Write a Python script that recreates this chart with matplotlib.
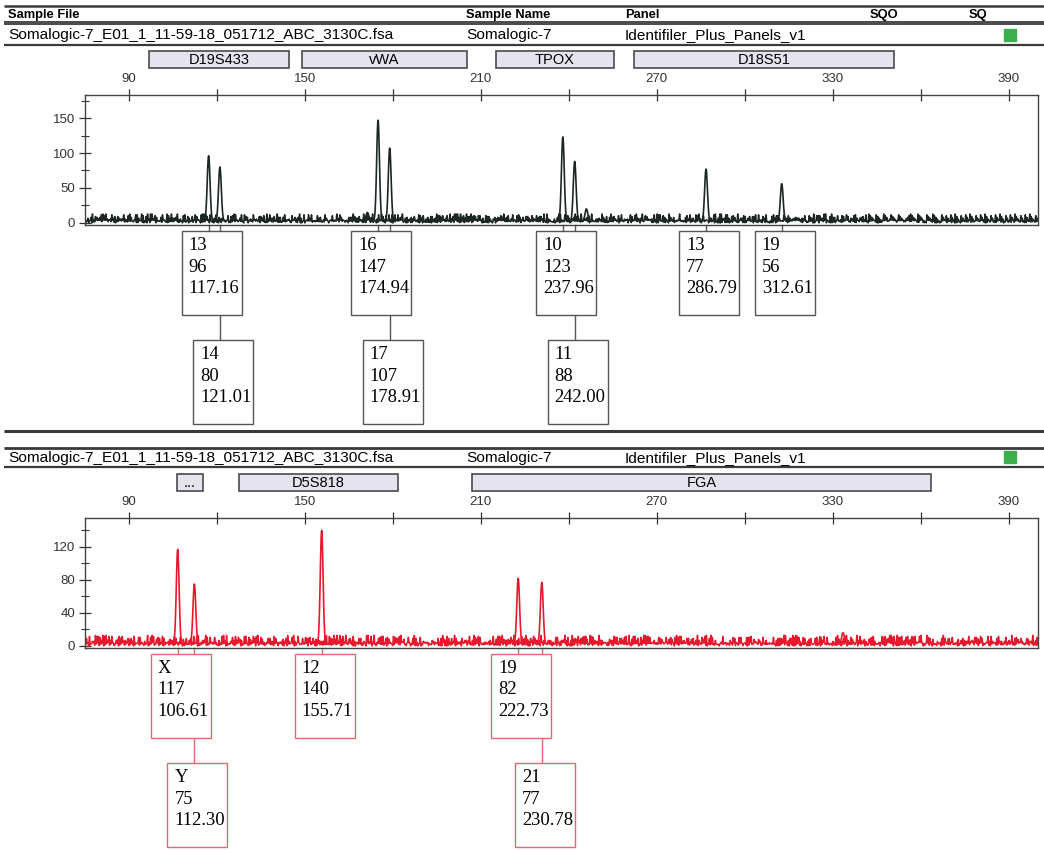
import numpy as np
import matplotlib.pyplot as plt
from matplotlib.patches import Rectangle

W, H = 1044, 850

#==============================================
# header info
sample_file = 'Somalogic-7_E01_1_11-59-18_051712_ABC_3130C.fsa'
sample_name = 'Somalogic-7'
panel_name = 'Identifiler_Plus_Panels_v1'
headers = ['Sample File', 'Sample Name', 'Panel', 'SQO', 'SQ']

x_ticks = [90, 150, 210, 270, 330, 390]
x_minor = [120, 180, 240, 300, 360]

# black dye
top_markers = ['D19S433', 'vWA', 'TPOX', 'D18S51']
top_marker_lo = [96.8, 149.1, 215.1, 262.3]
top_marker_hi = [144.7, 205.2, 255.5, 350.9]
top_alleles = ['13', '14', '16', '17', '10', '11', '13', '19']
top_heights = [96, 80, 147, 107, 123, 88, 77, 56]
top_sizes = [117.16, 121.01, 174.94, 178.91, 237.96, 242.00, 286.79, 312.61]
top_rows = [0, 1, 0, 1, 0, 1, 0, 0]
top_minor_sizes = [171.3, 246.0]
top_minor_heights = [15, 20]
top_yticks = [0, 50, 100, 150]
top_yminor = [25, 75, 125, 175]

# red dye
bot_markers = ['...', 'D5S818', 'FGA']
bot_marker_lo = [106.4, 127.6, 206.9]
bot_marker_hi = [115.3, 181.6, 363.5]
bot_alleles = ['X', 'Y', '12', '19', '21']
bot_heights = [117, 75, 140, 82, 77]
bot_sizes = [106.61, 112.30, 155.71, 222.73, 230.78]
bot_rows = [0, 1, 0, 0, 1]
bot_minor_sizes = [333.5]
bot_minor_heights = [16]
bot_yticks = [0, 40, 80, 120]
bot_yminor = [20, 60, 100, 140]

# baseline noise, typed levels (0-9)
noise_a = ('3141592653589793238462643383279502884197169399375105820974944592'
           '3078164062862089986280348253421170679821480865132823066470938446'
           '0955058223172535940812848111745028410270193852110555964462294895'
           '4930381962718281828459045235360287471352662497757247093699959574'
           '9669676277240766303535475945713821785251664274274663919320030599'
           '2181741359662904357290033429526059563073813232862794349076323382'
           '9880753195251019011573834187930702154089149934884167509244761460'
           '6680822648001684774118537423454424371075390777449920695517027618'
           '6143784145628097531864209751386420864213579753197531086429753108'
           '5274185296307418529630741852963074185296307418529630741852963074')
noise_b = ('1618033988749894848204586834365638117720309179805762862135448622'
           '7052604628189024497072072041893911374847540880753868917521266338'
           '6222353693179318006076672635443338908659593958290563832266131992'
           '8290267880675208766892501711696207032221043216269548626296313614'
           '4381497587012203408058879544547492461856953648644492410443207713'
           '4494704956584678850987433944221254487706647809158846074998871240'
           '0765217057517978834166256249407589069704000281210427621771117778'
           '0531531714101170466659914669798731761356006708748071013179523689'
           '4275219484353056783002287856997829778347845878228911097625003026'
           '9615617002504643382437764861028383126833037242926752631165339247')

#==============================================

sans = ['Liberation Sans', 'DejaVu Sans']
serif = ['Liberation Serif', 'DejaVu Serif']
plt.rcParams['font.family'] = sans

fig = plt.figure(figsize=(W / 100, H / 100), dpi=100)
pix = fig.add_axes([0, 0, 1, 1])
pix.set_xlim(0, W)
pix.set_ylim(H, 0)
pix.axis('off')


def hline(y, lw=1.5, color='#3a3a3a'):
    pix.plot([4, W], [y, y], color=color, lw=lw, solid_capstyle='butt')


def row_text(y, sq_top):
    pix.text(8, y, sample_file, fontsize=11.1, va='center')
    pix.text(466, y, sample_name, fontsize=11.1, va='center')
    pix.text(625, y, panel_name, fontsize=11.1, va='center')
    pix.add_patch(Rectangle((1004, sq_top), 12, 12, color='#3cae4c'))


def panel(ax_top, ax_bot, ylim, color, box_edge, sizes, heights, alleles, rows,
          minor_s, minor_h, hi_str, lo_str, yticks, yminor, markers, lo, hi, mk_top, box_tops):
    ax = fig.add_axes([85 / W, 1 - ax_bot / H, (1038 - 85) / W, (ax_bot - ax_top) / H])
    ax.set_xlim(75, 400)
    ax.set_ylim(*ylim)
    ax.set_facecolor('none')

    # baseline noise: typed highs interleaved with typed lows
    n = min(len(hi_str), len(lo_str))
    ny = np.empty(2 * n)
    ny[0::2] = [2 + int(c) * 1.2 for c in hi_str[:n]]
    ny[1::2] = [int(c) * 0.45 for c in lo_str[:n]]
    nx = np.linspace(75, 400, 2 * n)
    ax.plot(nx, ny, color=color, lw=1.1)

    # peaks
    for s, h in zip(list(sizes) + list(minor_s), list(heights) + list(minor_h)):
        px = np.linspace(s - 1.8, s + 1.8, 37)
        py = 2 + (h - 2) * np.exp(-0.5 * ((px - s) / 0.48) ** 2)
        ax.fill_between(px, 0.5, py, color='white', lw=0)
        ax.plot(px, py, color=color, lw=1.2)

    ax.xaxis.tick_top()
    ax.set_xticks(x_ticks)
    ax.set_xticks(x_minor, minor=True)
    ax.set_yticks(yticks)
    ax.set_yticks(yminor, minor=True)
    ax.tick_params(axis='x', which='both', direction='inout', length=8, width=0.9,
                   top=True, bottom=False, labelsize=9.5, pad=3, colors='#333333')
    ax.tick_params(axis='y', which='major', direction='inout', length=8, width=0.9,
                   labelsize=9.5, pad=3, colors='#333333')
    ax.tick_params(axis='y', which='minor', direction='inout', length=6, width=0.8,
                   colors='#333333')
    for sp in ax.spines.values():
        sp.set_color('#444444')
        sp.set_linewidth(1.0)

    def to_px(v):
        return ax.transData.transform((v, 0))[0]

    # marker bins
    for name, a, b in zip(markers, lo, hi):
        xa, xb = to_px(a), to_px(b)
        pix.add_patch(Rectangle((xa, mk_top), xb - xa, 17, facecolor='#e5e3ed',
                                edgecolor='#4a4a4a', lw=1.2))
        pix.text((xa + xb) / 2, mk_top + 8.5, name, fontsize=10.5,
                 ha='center', va='center')

    # allele label boxes
    for a, h, s, r in zip(alleles, heights, sizes, rows):
        x = to_px(s)
        top = box_tops[r]
        pix.plot([x, x], [ax_bot, top], color=box_edge, lw=1.0, zorder=1)
        pix.add_patch(Rectangle((x - 27, top), 60, 84, facecolor='white',
                                edgecolor=box_edge, lw=1.0, zorder=2))
        for k, t in enumerate([a, str(h), '%.2f' % s]):
            pix.text(x - 20, top + 14.5 + 21.5 * k, t, family=serif, fontsize=13.3,
                     va='center', zorder=3)
    return ax


# top section
hline(6, 1.8)
for hx, hd in zip([8, 466, 625, 870, 969], headers):
    pix.text(hx, 14.5, hd, fontsize=9.3, weight='bold', va='center')
hline(21.5, 1.3)
hline(24, 1.3)
row_text(35, 29)
hline(44.5, 1.6)

panel(95, 225, (-3, 183), '#1c2622', '#555555', top_sizes, top_heights, top_alleles,
      top_rows, top_minor_sizes, top_minor_heights, noise_a, noise_b, top_yticks, top_yminor,
      top_markers, top_marker_lo, top_marker_hi, 51, [231, 340])

# bottom section
hline(430.5, 2.2)
hline(447.5, 2.0)
row_text(458, 451)
hline(466.5, 1.6)

panel(518, 648, (-2.5, 155), '#e8192c', '#e06a73', bot_sizes, bot_heights, bot_alleles,
      bot_rows, bot_minor_sizes, bot_minor_heights, noise_b, noise_a[::-1], bot_yticks, bot_yminor,
      bot_markers, bot_marker_lo, bot_marker_hi, 474, [654, 763])

plt.savefig('out.png', dpi=100)
